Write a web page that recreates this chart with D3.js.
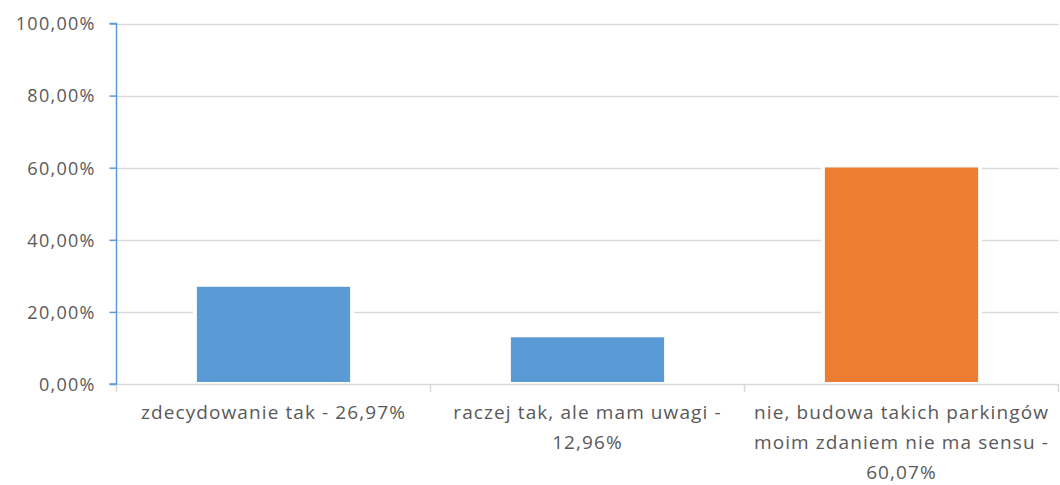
<!DOCTYPE html>
<html>
<head>
<meta charset="utf-8">
<script src="https://cdn.jsdelivr.net/npm/d3@7"></script>
<style>
  html, body { margin: 0; padding: 0; background: #fff; }
  svg text { font-family: "Open Sans", "Liberation Sans", sans-serif; fill: #595959; }
</style>
</head>
<body>
<svg id="chart" width="1060" height="485"></svg>
<script>
/* ─── Data ───────────────────────────────────────────────────────────────── */

const CATEGORIES = [
  ['zdecydowanie tak - 26,97%'],
  ['raczej tak, ale mam uwagi -', '12,96%'],
  ['nie, budowa takich parkingów', 'moim zdaniem nie ma sensu -', '60,07%'],
];
const VALUES = [26.97, 12.96, 60.07];
const BAR_COLORS = ['#5B9BD5', '#5B9BD5', '#ED7D31'];
const Y_TICKS = [0, 20, 40, 60, 80, 100];

/* ─── Layout ─────────────────────────────────────────────────────────────── */

const M = { left: 116.5, right: 1058.5, top: 23.5, bottom: 384 };

const svg = d3.select('#chart');

const x = d3.scaleBand()
  .domain(d3.range(CATEGORIES.length))
  .range([M.left, M.right]);

const y = d3.scaleLinear().domain([0, 100]).range([M.bottom, M.top]);

const fmt = v => v.toFixed(2).replace('.', ',') + '%';

/* ─── Gridlines ──────────────────────────────────────────────────────────── */

svg.append('g')
  .selectAll('line')
  .data(Y_TICKS)
  .join('line')
  .attr('x1', M.left).attr('x2', M.right)
  .attr('y1', d => Math.round(y(d)) + 0.5).attr('y2', d => Math.round(y(d)) + 0.5)
  .attr('stroke', '#D9D9D9')
  .attr('stroke-width', 1.5);

/* ─── Bars ───────────────────────────────────────────────────────────────── */

const barW = x.bandwidth() * 0.488;
const bars = svg.append('g')
  .selectAll('g')
  .data(VALUES)
  .join('g');

// white halo that cuts the gridlines around each bar
bars.append('rect')
  .attr('x', (d, i) => x(i) + (x.bandwidth() - barW) / 2 - 4)
  .attr('width', barW + 8)
  .attr('y', d => y(d) - 4)
  .attr('height', d => y(0) - 1 - (y(d) - 4))
  .attr('fill', '#fff');

bars.append('rect')
  .attr('x', (d, i) => x(i) + (x.bandwidth() - barW) / 2)
  .attr('width', barW)
  .attr('y', d => y(d))
  .attr('height', d => y(0) - 2 - y(d))
  .attr('fill', (d, i) => BAR_COLORS[i]);

/* ─── Axes ───────────────────────────────────────────────────────────────── */

// category ticks along the bottom
const bounds = d3.range(CATEGORIES.length + 1).map(i => i < CATEGORIES.length ? x(i) : M.right);
svg.append('g')
  .selectAll('line')
  .data(bounds)
  .join('line')
  .attr('x1', d => d).attr('x2', d => d)
  .attr('y1', M.bottom).attr('y2', M.bottom + 8)
  .attr('stroke', '#D9D9D9')
  .attr('stroke-width', 1.5);

// value axis (blue)
const yAxis = d3.axisLeft(y).tickValues(Y_TICKS).tickSize(7).tickPadding(15).tickFormat(fmt);
const gy = svg.append('g')
  .attr('transform', `translate(${M.left},0)`)
  .call(yAxis);
gy.select('.domain').attr('stroke', '#5B9BD5').attr('stroke-width', 1.5)
  .attr('d', `M-7,${y(100)}H0V${y(0)}H-7`);
gy.selectAll('.tick line').attr('stroke', '#5B9BD5').attr('stroke-width', 1.5);
gy.selectAll('.tick text')
  .attr('font-size', 18)
  .attr('letter-spacing', 1.3)
  .attr('dx', 1.3)
  .attr('dy', '0.35em')
  .style('font-family', '"Open Sans", "Liberation Sans", sans-serif')
  .style('fill', '#595959');

// category labels (wrapped lines)
const labels = svg.append('g')
  .selectAll('text')
  .data(CATEGORIES)
  .join('text')
  .attr('text-anchor', 'middle')
  .attr('font-size', 19)
  .attr('letter-spacing', 1.1);

labels.selectAll('tspan')
  .data((d, i) => d.map(line => ({ line, i })))
  .join('tspan')
  .attr('x', d => x(d.i) + x.bandwidth() / 2)
  .attr('y', (d, j) => 419 + j * 30)
  .text(d => d.line);
</script>
</body>
</html>
